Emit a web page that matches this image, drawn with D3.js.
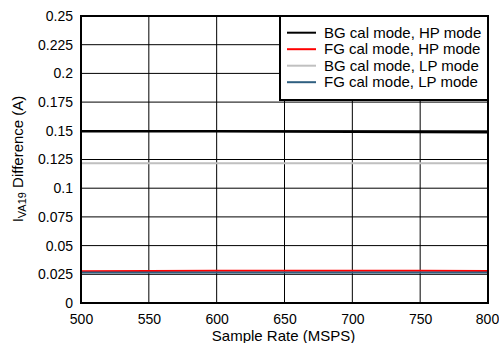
<!DOCTYPE html>
<html><head><meta charset="utf-8">
<script src="https://cdn.jsdelivr.net/npm/d3@7"></script>
<style>
body{margin:0;background:#fff;}
text{font-family:"Liberation Sans",Arial,sans-serif;fill:#000;}
</style></head>
<body><svg id="c" width="499" height="343"></svg>
<script>
const sampleRates = [500, 550, 600, 650, 700, 750, 800];
const bgHp = [0.1497, 0.1497, 0.1496, 0.1494, 0.1492, 0.1490, 0.1488];
const fgHp = [0.0276, 0.0279, 0.0281, 0.0281, 0.0280, 0.0280, 0.0279];
const bgLp = [0.1218, 0.1218, 0.1218, 0.1218, 0.1218, 0.1217, 0.1217];
const fgLp = [0.0266, 0.0266, 0.0266, 0.0266, 0.0266, 0.0266, 0.0266];
const seriesNames = ["BG cal mode, HP mode", "FG cal mode, HP mode", "BG cal mode, LP mode", "FG cal mode, LP mode"];
const seriesColors = ["#000000", "#ff0000", "#c0c0c0", "#2f5f80"];
const xTicks = [500, 550, 600, 650, 700, 750, 800];
const yTicks = [0, 0.025, 0.05, 0.075, 0.1, 0.125, 0.15, 0.175, 0.2, 0.225, 0.25];
const yTickLabels = ["0", "0.025", "0.05", "0.075", "0.1", "0.125", "0.15", "0.175", "0.2", "0.225", "0.25"];

const series = [bgHp, fgHp, bgLp, fgLp];
const FS = 15, TS = 14;
const L = 81, R = 488, T = 16, B = 303;
const svg = d3.select("#c");
const x = d3.scaleLinear().domain([500, 800]).range([L, R]);
const y = d3.scaleLinear().domain([0, 0.25]).range([B, T]);

// grid
svg.append("g").selectAll("line").data(xTicks).join("line")
  .attr("x1", d => x(d)).attr("x2", d => x(d)).attr("y1", T).attr("y2", B)
  .attr("stroke", "#000").attr("stroke-width", 1);
svg.append("g").selectAll("line").data(yTicks).join("line")
  .attr("x1", L).attr("x2", R).attr("y1", d => y(d)).attr("y2", d => y(d))
  .attr("stroke", "#000").attr("stroke-width", 1);

// series
const line = d3.line().x((d, i) => x(sampleRates[i])).y(d => y(d));
series.forEach((s, k) => {
  svg.append("path").datum(s).attr("d", line).attr("fill", "none")
    .attr("stroke", seriesColors[k]).attr("stroke-width", k === 0 ? 2.5 : 2);
});

// frame
svg.append("rect").attr("x", L).attr("y", T).attr("width", R - L).attr("height", B - T)
  .attr("fill", "none").attr("stroke", "#000").attr("stroke-width", 2);

// axes labels
const xAxis = d3.axisBottom(x).tickValues(xTicks).tickSize(0).tickPadding(11).tickFormat(d3.format("d"));
const gx = svg.append("g").attr("transform", `translate(0,${B})`).call(xAxis);
gx.select(".domain").remove();
gx.selectAll("text").attr("font-size", TS).attr("font-family", "Liberation Sans, Arial, sans-serif").attr("fill", "#000");
gx.selectAll(".tick").filter(d => d === 800).select("text").attr("dx", "-1");

const yAxis = d3.axisLeft(y).tickValues(yTicks).tickSize(0).tickPadding(8).tickFormat((d, i) => yTickLabels[i]);
const gy = svg.append("g").attr("transform", `translate(${L},0)`).call(yAxis);
gy.select(".domain").remove();
gy.selectAll("text").attr("font-size", TS).attr("font-family", "Liberation Sans, Arial, sans-serif").attr("fill", "#000");

svg.append("text").attr("x", (L + R) / 2 - 1).attr("y", 340.5).attr("text-anchor", "middle")
  .attr("font-size", FS).text("Sample Rate (MSPS)");

const yt = svg.append("text").attr("transform", "translate(23,159) rotate(-90)").attr("text-anchor", "middle")
  .attr("font-size", FS);
yt.append("tspan").text("I");
yt.append("tspan").attr("font-size", 11).attr("dy", 3).text("VA19");
yt.append("tspan").attr("dy", -3).text(" Difference (A)");

// legend
const lg = svg.append("g");
lg.append("rect").attr("x", 280).attr("y", T).attr("width", R - 280).attr("height", 84)
  .attr("fill", "#fff").attr("stroke", "#000").attr("stroke-width", 2);
const rowY = [32.7, 49.2, 65.7, 82.2];
seriesNames.forEach((n, k) => {
  lg.append("line").attr("x1", 287).attr("x2", 316).attr("y1", rowY[k]).attr("y2", rowY[k])
    .attr("stroke", seriesColors[k]).attr("stroke-width", 2);
  lg.append("text").attr("x", 324).attr("y", rowY[k] + 5).attr("font-size", FS).text(n);
});
</script></body></html>
